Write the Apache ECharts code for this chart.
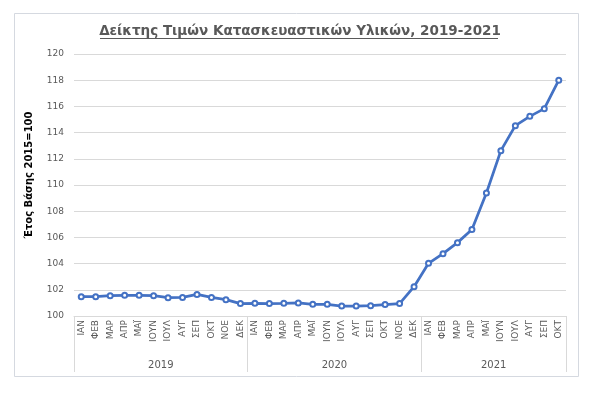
<!DOCTYPE html>
<html>
<head>
<meta charset="utf-8">
<script src="https://cdn.jsdelivr.net/npm/echarts@6/dist/echarts.min.js"></script>
<style>
html,body{margin:0;padding:0;background:#fff;}
#c{width:600px;height:398px;}
</style>
</head>
<body>
<div id="c"></div>
<script>
const titleText = 'Δείκτης Τιμών Κατασκευαστικών Υλικών, 2019-2021';
const yAxisName = 'Έτος Βάσης 2015=100';
const monthNames = ['ΙΑΝ','ΦΕΒ','ΜΑΡ','ΑΠΡ','ΜΑΪ','ΙΟΥΝ','ΙΟΥΛ','ΑΥΓ','ΣΕΠ','ΟΚΤ','ΝΟΕ','ΔΕΚ'];
const years = ['2019','2020','2021'];
const monthsPerYear = [12, 12, 10];
const values2019 = [101.47,101.47,101.55,101.58,101.58,101.55,101.40,101.42,101.65,101.42,101.25,100.95];
const values2020 = [100.97,100.95,100.97,101.00,100.89,100.89,100.76,100.76,100.79,100.87,100.95,102.24];
const values2021 = [104.02,104.76,105.60,106.60,109.39,112.62,114.53,115.24,115.83,118.00];
const yMin = 100, yMax = 120, yStep = 2;

const categories = [];
const yearStart = [];
const yearMid = {};
let idx = 0;
years.forEach((y, i) => {
  yearStart.push(idx);
  for (let m = 0; m < monthsPerYear[i]; m++) categories.push(monthNames[m]);
  yearMid[idx + monthsPerYear[i] / 2] = y;
  idx += monthsPerYear[i];
});
const values = values2019.concat(values2020, values2021);

const chart = echarts.init(document.getElementById('c'), null, {renderer: 'canvas'});
const gridColor = '#d9d9d9';
const textColor = '#595959';
const font = 'DejaVu Sans, Verdana, sans-serif';

chart.setOption({
  animation: false,
  backgroundColor: '#ffffff',
  title: {
    text: titleText,
    left: 'center',
    top: 19,
    textStyle: {fontFamily: font, fontSize: 13.5, fontWeight: 'bold', color: textColor}
  },
  graphic: [
    {type: 'rect', shape: {x: 14.5, y: 13.5, width: 564, height: 363}, style: {fill: 'none', stroke: '#d5d9e0', lineWidth: 1}, silent: true, z: -1},
    {type: 'rect', shape: {x: 100, y: 38, width: 398, height: 1}, style: {fill: textColor}, silent: true}
  ],
  grid: {left: 74, right: 34, top: 54, bottom: 82, containLabel: false},
  xAxis: [
    {
      type: 'category',
      data: categories,
      boundaryGap: true,
      position: 'bottom',
      axisLine: {show: true, lineStyle: {color: gridColor, width: 1}},
      axisTick: {
        show: true,
        length: 56,
        interval: function (i) { return yearStart.indexOf(i) !== -1; },
        lineStyle: {color: gridColor, width: 1}
      },
      axisLabel: {
        interval: 0, rotate: 90, margin: 4,
        fontFamily: font, fontSize: 9, color: textColor
      },
      splitLine: {show: false}
    },
    {
      type: 'value',
      min: 0, max: categories.length, interval: 1,
      position: 'bottom',
      offset: 44,
      axisLine: {show: false},
      axisTick: {show: false},
      splitLine: {show: false},
      axisLabel: {
        margin: 0,
        showMinLabel: true, showMaxLabel: true,
        fontFamily: font, fontSize: 10, color: textColor,
        formatter: function (v) { return yearMid[v] || ''; }
      }
    }
  ],
  yAxis: {
    type: 'value',
    min: yMin, max: yMax, interval: yStep,
    name: yAxisName,
    nameLocation: 'middle',
    nameGap: 40,
    nameTextStyle: {fontFamily: font, fontSize: 10, fontWeight: 'bold', color: '#000000', padding: [0, 0, 0, 20]},
    axisLine: {show: false},
    axisTick: {show: false},
    axisLabel: {margin: 10, fontFamily: font, fontSize: 9, color: textColor},
    splitLine: {lineStyle: {color: gridColor, width: 1}}
  },
  series: [{
    type: 'line',
    xAxisIndex: 0,
    data: values,
    symbol: 'emptyCircle',
    symbolSize: 5,
    lineStyle: {color: '#4472c4', width: 2.75},
    itemStyle: {color: '#4472c4', borderColor: '#4472c4', borderWidth: 1}
  }]
});
</script>
</body>
</html>
